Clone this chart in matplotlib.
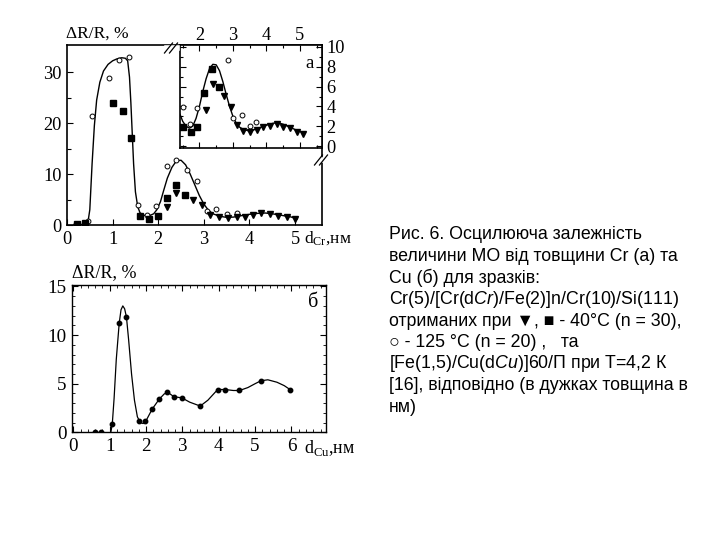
import numpy as np
import matplotlib
matplotlib.use("Agg")
import matplotlib.pyplot as plt
from matplotlib.lines import Line2D

plt.rcParams['font.family'] = ['Liberation Serif', 'DejaVu Serif']
plt.rcParams['mathtext.fontset'] = 'custom'
plt.rcParams['mathtext.rm'] = 'Liberation Serif'
plt.rcParams['mathtext.it'] = 'Liberation Sans:italic'

# ---- (a) Cr data, main panel ----
cr_circ_x = [0.2, 0.45, 0.55, 0.92, 1.14, 1.35, 1.56, 1.76, 1.96, 2.2, 2.4, 2.64, 2.84, 3.06, 3.26, 3.5, 3.72]
cr_circ_y = [0.2, 0.7, 21.4, 28.8, 32.3, 32.9, 3.9, 2.0, 3.8, 11.5, 12.8, 10.7, 8.6, 2.8, 3.1, 2.1, 2.4]
cr_sq_x = [0.22, 0.4, 1.01, 1.22, 1.41, 1.6, 1.79, 2.0, 2.2, 2.38, 2.58]
cr_sq_y = [0.1, 0.3, 23.9, 22.4, 17.0, 1.8, 1.2, 1.8, 5.2, 7.9, 5.9]
cr_tri_x = [2.2, 2.4, 2.77, 2.97, 3.13, 3.34, 3.54, 3.72, 3.9, 4.07, 4.25, 4.44, 4.63, 4.82, 5.0]
cr_tri_y = [3.5, 6.2, 5.0, 3.9, 2.0, 1.5, 1.4, 1.5, 1.6, 2.0, 2.3, 2.1, 1.8, 1.6, 1.2]
cr_fit_x = [0.15, 0.3, 0.4, 0.46, 0.5, 0.55, 0.6, 0.65, 0.72, 0.8, 0.9, 1.0, 1.1, 1.2, 1.28, 1.33,
            1.37, 1.4, 1.43, 1.46, 1.5, 1.55, 1.6, 1.68, 1.8, 1.9, 1.97, 2.05, 2.12, 2.2, 2.3, 2.4,
            2.5, 2.6, 2.7, 2.8, 2.9, 3.0, 3.1, 3.2, 3.35, 3.5, 3.65, 3.8, 4.0, 4.2, 4.35, 4.5,
            4.7, 4.9, 5.05]
cr_fit_y = [0.0, 0.1, 0.2, 0.6, 3.0, 12.0, 19.5, 24.5, 28.0, 30.2, 31.5, 32.2, 32.6, 32.8, 32.7, 32.2,
            29.0, 24.0, 18.0, 12.0, 6.5, 3.6, 2.4, 1.9, 1.8, 2.2, 3.0, 4.6, 6.8, 9.2, 11.3, 12.6,
            12.7, 11.8, 10.0, 7.9, 5.8, 4.1, 2.9, 2.2, 1.7, 1.5, 1.55, 1.8, 2.1, 2.3, 2.35, 2.2,
            1.9, 1.6, 1.2]

# ---- (a) inset ----
in_circ_x = [1.5, 1.72, 1.92, 2.86, 3.01, 3.27, 3.5, 3.69]
in_circ_y = [3.9, 2.2, 3.8, 8.7, 2.8, 3.1, 2.0, 2.45]
in_sq_x = [1.5, 1.74, 1.94, 2.14, 2.37, 2.57]
in_sq_y = [1.9, 1.45, 1.9, 5.4, 7.8, 6.0]
in_tri_x = [2.2, 2.4, 2.74, 2.95, 3.12, 3.31, 3.51, 3.71, 3.89, 4.11, 4.31, 4.51, 4.71, 4.91, 5.1]
in_tri_y = [3.6, 6.25, 5.1, 3.9, 2.1, 1.5, 1.4, 1.6, 1.9, 2.0, 2.2, 1.9, 1.8, 1.45, 1.2]
in_fit_x = [1.42, 1.5, 1.6, 1.7, 1.8, 1.9, 2.0, 2.1, 2.2, 2.3, 2.4, 2.5, 2.6, 2.7, 2.8, 2.9,
            3.0, 3.1, 3.2, 3.3, 3.45, 3.6, 3.8, 4.0, 4.2, 4.35, 4.5, 4.7, 4.9, 5.15]
in_fit_y = [3.2, 2.5, 2.0, 1.8, 2.0, 2.8, 4.0, 5.5, 6.8, 7.8, 8.25, 8.2, 7.6, 6.5, 5.2, 4.0,
            3.0, 2.3, 1.9, 1.7, 1.55, 1.6, 1.85, 2.1, 2.3, 2.35, 2.2, 1.9, 1.6, 1.3]

# ---- (б) Cu data ----
cu_x = [0.6, 0.75, 1.07, 1.26, 1.46, 1.81, 1.97, 2.17, 2.36, 2.57, 2.77, 2.98, 3.49, 3.97, 4.17, 4.57, 5.16, 5.96]
cu_y = [0.0, 0.0, 0.85, 11.2, 11.85, 1.2, 1.15, 2.4, 3.4, 4.1, 3.65, 3.55, 2.7, 4.4, 4.4, 4.3, 5.3, 4.4]
cu_fit_x = [1.03, 1.07, 1.12, 1.18, 1.26, 1.31, 1.36, 1.41, 1.46, 1.52, 1.6, 1.68, 1.76, 1.84, 1.92,
            2.0, 2.17, 2.36, 2.5, 2.6, 2.77, 2.98, 3.2, 3.49, 3.7, 3.97, 4.17, 4.4, 4.57, 4.8,
            5.0, 5.16, 5.35, 5.6, 5.8, 5.96]
cu_fit_y = [0.0, 0.85, 3.5, 7.5, 11.2, 12.6, 13.0, 12.7, 11.85, 9.5, 6.0, 3.3, 1.6, 1.0, 0.9,
            1.2, 2.4, 3.4, 3.95, 4.1, 3.65, 3.55, 3.1, 2.7, 3.3, 4.4, 4.4, 4.3, 4.3, 4.6,
            5.0, 5.3, 5.4, 5.15, 4.8, 4.4]

caption = ["Рис. 6. Осцилююча залежність",
           "величини МО від товщини Cr (а) та",
           "Cu (б) для зразків:",
           "Cr(5)/[Cr(d$\\it{Cr}$)/Fe(2)]n/Cr(10)/Si(111)",
           "отриманих при ▼, ■ - 40°C (n = 30),",
           "○ - 125 °C (n = 20) ,   та",
           "[Fe(1,5)/Cu(d$\\it{Cu}$)]60/П при Т=4,2 К",
           "[16], відповідно (в дужках товщина в",
           "нм)"]

fig = plt.figure(figsize=(7.2, 5.4), dpi=100)

def px(x0, y0, x1, y1):
    return [x0 / 720, 1 - y1 / 540, (x1 - x0) / 720, (y1 - y0) / 540]

fs = 12.5
tfs = 13.2
mk = dict(color='black', linestyle='none')

# main Cr panel
ax = fig.add_axes(px(67, 45, 322, 225))
ax.plot(cr_fit_x, cr_fit_y, color='black', lw=1.0)
ax.plot(cr_circ_x, cr_circ_y, marker='o', ms=3.5, mfc='white', mew=0.7, **mk)
ax.plot(cr_sq_x, cr_sq_y, marker='s', ms=4.5, **mk)
ax.plot(cr_tri_x, cr_tri_y, marker='v', ms=4.5, **mk)
ax.set_xlim(0, 5.59)
ax.set_ylim(0, 35.3)
ax.set_xticks([0, 1, 2, 3, 4, 5])
ax.set_yticks([0, 10, 20, 30])
ax.set_yticks([5, 15, 25], minor=True)
ax.tick_params(direction='in', labelsize=tfs, length=4, width=0.8, pad=4)
ax.tick_params(which='minor', direction='in', length=3, width=0.8)
for s in ax.spines.values():
    s.set_linewidth(1.2)
fig.text(66 / 720, 1 - 34 / 540, "ΔR/R, %", fontsize=fs, va='center', ha='left')
fig.text(304 / 720, 1 - 239 / 540, "d$_{\\rm Cr}$,нм", fontsize=fs, va='center', ha='left')

# inset
ins = fig.add_axes(px(180, 45, 322, 148))
ins.set_facecolor('white')
ins.plot(in_fit_x, in_fit_y, color='black', lw=1.0)
ins.plot(in_circ_x, in_circ_y, marker='o', ms=3.5, mfc='white', mew=0.7, **mk)
ins.plot(in_sq_x, in_sq_y, marker='s', ms=4.5, **mk)
ins.plot(in_tri_x, in_tri_y, marker='v', ms=4.5, **mk)
ins.set_xlim(1.42, 5.66)
ins.set_ylim(-0.2, 10.2)
ins.set_xticks([2, 3, 4, 5])
ins.set_xticks([1.5, 2.5, 3.5, 4.5, 5.5], minor=True)
ins.set_yticks([0, 2, 4, 6, 8, 10])
ins.set_yticks([1, 3, 5, 7, 9], minor=True)
ins.xaxis.tick_top()
ins.yaxis.tick_right()
ins.tick_params(direction='in', labelsize=tfs, length=4, width=0.8,
                top=True, bottom=True, left=True, right=True)
ins.tick_params(which='minor', direction='in', length=2.5, width=0.8,
                top=True, bottom=True, left=True, right=True)
ins.tick_params(axis='x', pad=1)
ins.tick_params(axis='y', pad=3)
for s in ins.spines.values():
    s.set_linewidth(1.2)
ins.text(5.3, 8.3, "a", fontsize=fs + 1, ha='center', va='center')

# break marks
for (bx, by) in [(172, 48), (322, 160)]:
    fig.add_artist(Line2D([(bx - 5) / 720, (bx + 5) / 720], [1 - by / 540, 1 - by / 540],
                          color='white', lw=4))
    for d in (-2.5, 2.5):
        fig.add_artist(Line2D([(bx - 5 + d) / 720, (bx + 3 + d) / 720],
                              [1 - (by + 5) / 540, 1 - (by - 5) / 540], color='black', lw=0.9))

# Cu panel
bx_ = fig.add_axes(px(72.3, 285, 326, 432.3))
bx_.plot(cu_fit_x, cu_fit_y, color='black', lw=0.9)
bx_.plot(cu_x, cu_y, marker='o', ms=3.2, **mk)
bx_.set_xlim(-0.03, 6.95)
bx_.set_ylim(0, 15.15)
bx_.set_xticks([0, 1, 2, 3, 4, 5, 6])
bx_.set_xticks(np.arange(0, 7, 0.2), minor=True)
bx_.set_yticks([0, 5, 10, 15])
bx_.set_yticks(np.arange(0, 15.1, 1), minor=True)
bx_.tick_params(direction='in', labelsize=tfs + 0.5, length=4, width=0.8,
                top=True, right=True, pad=4)
bx_.tick_params(which='minor', direction='in', length=2, width=0.6, top=True, right=True)
for s in bx_.spines.values():
    s.set_linewidth(1.0)
bx_.text(6.59, 13.4, "б", fontsize=fs + 2, ha='center', va='center')
fig.text(72 / 720, 1 - 273 / 540, "ΔR/R, %", fontsize=fs + 0.5, va='center', ha='left')
fig.text(304 / 720, 1 - 448 / 540, "d$_{\\rm Cu}$,нм", fontsize=fs + 0.5, va='center', ha='left')

# caption
for i, line in enumerate(caption):
    fig.text(389 / 720, 1 - (235 + i * 21.5) / 540, line, fontsize=12.8,
             family=['Liberation Sans', 'DejaVu Sans'], va='center', ha='left')

fig.savefig("out.png", dpi=100)
